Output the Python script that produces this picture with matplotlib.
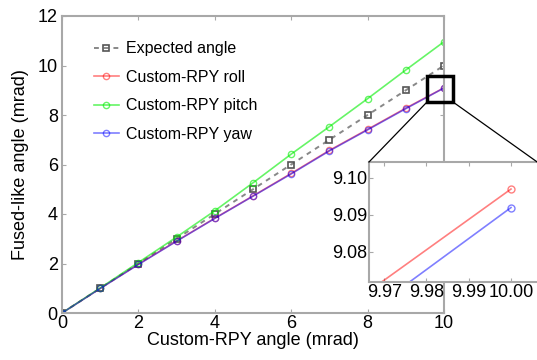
import matplotlib
matplotlib.use("Agg")
import matplotlib.pyplot as plt
from matplotlib.lines import Line2D
from matplotlib.patches import Rectangle

plt.rcParams["font.family"] = ["Liberation Sans", "DejaVu Sans"]

# Data
x = [0, 1, 2, 3, 4, 5, 6, 7, 8, 9, 10]
expected = [0, 1, 2, 3, 4, 5, 6, 7, 8, 9, 10]
roll = [0, 0.995, 1.97, 2.91, 3.83, 4.73, 5.64, 6.57, 7.42, 8.277, 9.097]
pitch = [0, 1.01, 2.04, 3.07, 4.13, 5.26, 6.42, 7.53, 8.66, 9.82, 10.96]
yaw = [0, 0.99, 1.96, 2.90, 3.82, 4.72, 5.62, 6.55, 7.40, 8.255, 9.092]

labels = ["Expected angle", "Custom-RPY roll", "Custom-RPY pitch", "Custom-RPY yaw"]
x_ticks = [0, 2, 4, 6, 8, 10]
y_ticks = [0, 2, 4, 6, 8, 10, 12]
inset_xticks = [9.97, 9.98, 9.99, 10.00]
inset_yticks = [9.08, 9.09, 9.10]

W, H = 537, 360
fig = plt.figure(figsize=(W / 100, H / 100), dpi=100)


def px(left, top, right, bottom):
    return [left / W, 1 - bottom / H, (right - left) / W, (bottom - top) / H]


spine_col = "#a8a8a8"


def style(ax):
    for s in ax.spines.values():
        s.set_color(spine_col)
        s.set_linewidth(1.5)
    ax.tick_params(direction="in", top=True, right=True, length=3,
                   color=spine_col, labelsize=13)
    ax.tick_params(axis="x", pad=1.5)
    ax.tick_params(axis="y", pad=3)


def draw_series(ax, ms):
    ax.plot(x, expected, linestyle=(0, (2.5, 2.5)), color="#888888", lw=1.4,
            marker="s", ms=ms, mfc="none", mec="#555555", mew=1.2,
            label=labels[0])
    ax.plot(x, roll, color="#ff0000", alpha=0.5, lw=1.2, marker="o", ms=ms,
            mfc="none", mew=1.0, label=labels[1])
    ax.plot(x, pitch, color="#00ee00", alpha=0.6, lw=1.2, marker="o", ms=ms,
            mfc="none", mew=1.0, label=labels[2])
    ax.plot(x, yaw, color="#0000ff", alpha=0.5, lw=1.2, marker="o", ms=ms,
            mfc="none", mew=1.0, label=labels[3])


# Main axes
ax = fig.add_axes(px(62, 16, 444, 313))
draw_series(ax, 4.5)
ax.set_xlim(0, 10)
ax.set_ylim(0, 12)
ax.set_xticks(x_ticks)
ax.set_yticks(y_ticks)
style(ax)
ax.set_xlabel("Custom-RPY angle (mrad)", fontsize=13, labelpad=0)
ax.set_ylabel("Fused-like angle (mrad)", fontsize=13, labelpad=6)

leg = ax.legend(loc="upper left", bbox_to_anchor=(0.066, 0.936), frameon=False,
                fontsize=11.5, handlelength=1.6, handletextpad=0.4,
                labelspacing=0.84, borderaxespad=0)

# Zoom marker box on the main axes
ax.add_patch(Rectangle((9.55, 8.53), 0.69, 1.05, fill=False, lw=2.5,
                       edgecolor="black", clip_on=False, zorder=5))

# Connector lines in figure pixels
fig.add_artist(Line2D([427 / W, 369 / W], [1 - 102 / H, 1 - 162 / H],
                      color="black", lw=0.9))
fig.add_artist(Line2D([453 / W, 540 / W], [1 - 102 / H, 1 - 164 / H],
                      color="black", lw=0.9))

# Inset
axin = fig.add_axes(px(369, 162, 541, 282))
axin.set_facecolor("white")
draw_series(axin, 5)
axin.set_xlim(9.9664, 10.0071)
axin.set_ylim(9.0719, 9.1043)
axin.set_xticks(inset_xticks)
axin.set_xticklabels(["9.97", "9.98", "9.99", "10.00"])
axin.set_yticks(inset_yticks)
axin.set_yticklabels(["9.08", "9.09", "9.10"])
style(axin)
axin.tick_params(axis="y", pad=1)

fig.savefig("out.png", dpi=100)
